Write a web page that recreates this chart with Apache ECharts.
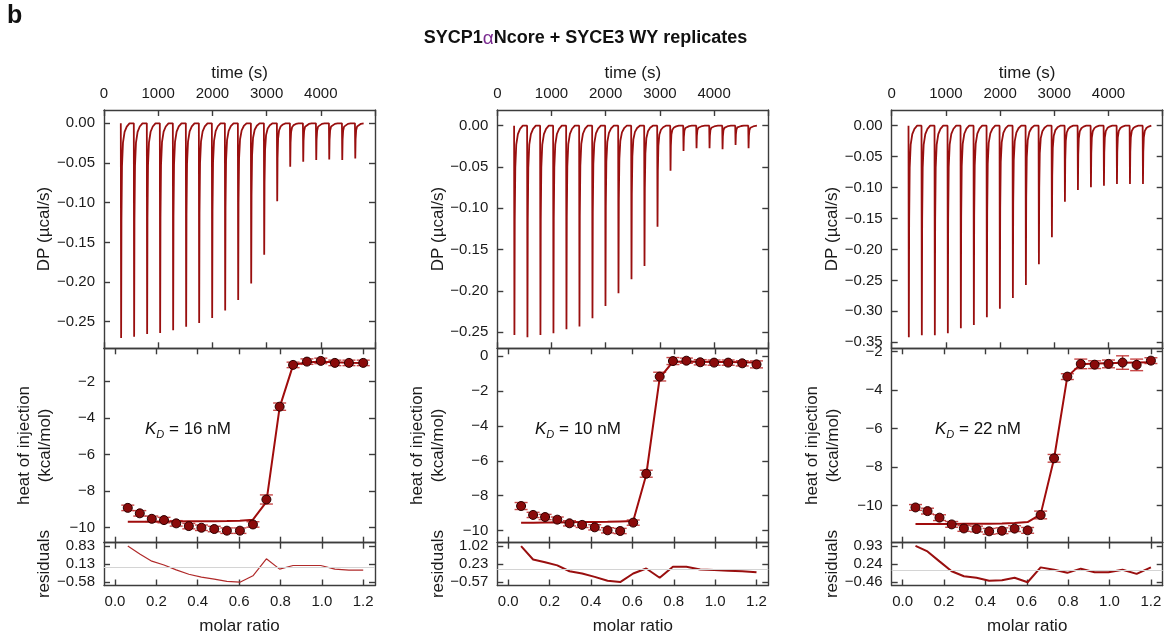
<!DOCTYPE html>
<html><head><meta charset="utf-8">
<script src="https://cdn.jsdelivr.net/npm/echarts@6/dist/echarts.min.js"></script>
<style>html,body{margin:0;padding:0;background:#fff}#c{width:1171px;height:641px}</style>
</head><body><div id="c"></div>
<script>
// ---------------- data ----------------
const injTimes = [310,550,790,1030,1270,1510,1750,1990,2230,2470,2710,2950,3190,3430,3670,3910,4150,4390,4630];
// shape of one injection peak (time offset in s, fraction of peak depth)
const peakOffsets   = [0, 6, 12, 22, 40, 70, 110, 160];
const peakFractions = [0, 1, 0.45, 0.2, 0.09, 0.04, 0.015, 0];

const dpPeaks1 = [-0.2705,-0.2688,-0.2654,-0.2642,-0.2608,-0.2562,-0.2515,-0.2452,-0.2359,-0.2225,-0.2018,-0.1656,-0.0982,-0.0548,-0.0485,-0.0463,-0.0455,-0.0463,-0.0442];
const dpPeaks2 = [-0.2532,-0.2560,-0.2532,-0.2512,-0.2464,-0.2431,-0.2331,-0.2181,-0.2028,-0.1859,-0.1698,-0.1222,-0.0544,-0.0306,-0.0274,-0.0274,-0.0286,-0.0234,-0.0274];
const dpPeaks3 = [-0.3420,-0.3387,-0.3387,-0.3355,-0.3274,-0.3220,-0.3096,-0.2956,-0.2784,-0.2574,-0.2240,-0.1804,-0.1228,-0.1039,-0.0996,-0.0969,-0.0942,-0.0942,-0.0942];

const molarRatio = [0.062,0.120,0.178,0.237,0.296,0.357,0.418,0.480,0.541,0.604,0.667,0.732,0.796,0.861,0.928,0.995,1.063,1.131,1.200];

const heat1 = [-8.93,-9.23,-9.53,-9.60,-9.78,-9.93,-10.02,-10.09,-10.18,-10.18,-9.84,-8.47,-3.38,-1.09,-0.91,-0.87,-0.98,-0.98,-0.98];
const fit1  = [-9.69,-9.69,-9.69,-9.68,-9.68,-9.67,-9.67,-9.66,-9.65,-9.63,-9.58,-8.60,-3.42,-1.10,-0.94,-0.92,-0.95,-0.97,-0.98];
const err1  = [0.15,0.15,0.15,0.15,0.15,0.15,0.15,0.15,0.15,0.15,0.15,0.25,0.2,0.15,0.15,0.15,0.15,0.15,0.15];
const resid1 = [0.83,0.52,0.24,0.09,-0.10,-0.27,-0.38,-0.46,-0.55,-0.58,-0.33,0.33,-0.07,0.07,0.07,0.07,-0.07,-0.11,-0.11];

const heat2 = [-8.59,-9.10,-9.22,-9.37,-9.58,-9.67,-9.81,-9.98,-10.02,-9.54,-6.74,-1.18,-0.29,-0.27,-0.36,-0.38,-0.38,-0.42,-0.48];
const fit2  = [-9.55,-9.55,-9.54,-9.53,-9.52,-9.51,-9.50,-9.49,-9.47,-9.45,-6.80,-1.25,-0.33,-0.32,-0.33,-0.34,-0.35,-0.36,-0.37];
const err2  = [0.2,0.15,0.15,0.15,0.15,0.15,0.15,0.15,0.15,0.15,0.2,0.25,0.2,0.15,0.15,0.15,0.15,0.15,0.2];
const resid2 = [1.02,0.43,0.31,0.17,-0.09,-0.19,-0.34,-0.51,-0.57,-0.19,0.03,-0.38,0.11,0.11,-0.01,-0.04,-0.07,-0.09,-0.14];

const heat3 = [-10.09,-10.28,-10.62,-10.97,-11.18,-11.21,-11.33,-11.30,-11.19,-11.28,-10.48,-7.54,-3.30,-2.64,-2.68,-2.64,-2.57,-2.69,-2.47];
const fit3  = [-10.95,-10.95,-10.95,-10.95,-10.94,-10.94,-10.93,-10.92,-10.90,-10.85,-10.45,-7.55,-3.30,-2.66,-2.62,-2.60,-2.58,-2.57,-2.56];
const err3  = [0.15,0.15,0.15,0.15,0.15,0.15,0.15,0.15,0.15,0.15,0.2,0.2,0.15,0.25,0.2,0.2,0.35,0.3,0.15];
const resid3 = [0.93,0.72,0.34,-0.04,-0.23,-0.29,-0.40,-0.38,-0.29,-0.46,0.11,0.02,-0.10,0.06,-0.08,-0.08,0.02,-0.14,0.11];

const kdValues = ['16', '10', '22'];

// tick labels
const timeTicks  = [0,1000,2000,3000,4000];
const timeTickMarks = [0,1000,2000,3000,4000,5000];
const molarTicks = [0,0.2,0.4,0.6,0.8,1.0,1.2];
const dpTicks1 = [0,-0.05,-0.10,-0.15,-0.20,-0.25];
const dpTicks2 = [0,-0.05,-0.10,-0.15,-0.20,-0.25];
const dpTicks3 = [0,-0.05,-0.10,-0.15,-0.20,-0.25,-0.30,-0.35];
const heatTicks1 = [-2,-4,-6,-8,-10];
const heatTicks2 = [0,-2,-4,-6,-8,-10];
const heatTicks3 = [-2,-4,-6,-8,-10];
const residTicks1 = [-0.58,0.13,0.83];
const residTicks2 = [-0.57,0.23,1.02];
const residTicks3 = [-0.46,0.24,0.93];

// ---------------- layout / style ----------------
const FONT = 'Liberation Sans, Arial, sans-serif';
const AX = '#3c3c3c';
const RED = '#990f0f';
const W = 271;
const layout = {
  lefts: [104, 497.3, 891.7],
  thermo: {top: 110, height: 238.3},
  iso: {top: 348.3, height: 194.4},
  resid: {top: 542.7, height: 42.8}
};
const panels = [
  {dp: dpPeaks1, dpRange: [-0.2835, 0.0168], dpTicks: dpTicks1, heat: heat1, fit: fit1, err: err1,
   heatRange: [-10.84, -0.18], heatTicks: heatTicks1, resid: resid1, residRange: [-0.708, 0.958], residTicks: residTicks1,
   residStyle: {color: '#b02a2a', width: 1.2}, kdX: 145},
  {dp: dpPeaks2, dpRange: [-0.2694, 0.019], dpTicks: dpTicks2, heat: heat2, fit: fit2, err: err2,
   heatRange: [-10.69, 0.44], heatTicks: heatTicks2, resid: resid2, residRange: [-0.72, 1.17], residTicks: residTicks2,
   residStyle: {color: RED, width: 2}, kdX: 535},
  {dp: dpPeaks3, dpRange: [-0.3597, 0.0253], dpTicks: dpTicks3, heat: heat3, fit: fit3, err: err3,
   heatRange: [-11.92, -1.83], heatTicks: heatTicks3, resid: resid3, residRange: [-0.585, 1.055], residTicks: residTicks3,
   residStyle: {color: RED, width: 2}, kdX: 935}
];

const minus = s => String(s).replace('-', '\u2212');
const fmt = {
  time: v => String(v),
  molar: v => v.toFixed(1),
  dp: v => minus(Math.abs(v) < 1e-9 ? '0.00' : v.toFixed(2)),
  heat: v => minus(v),
  resid: v => minus(v.toFixed(2))
};

const option = {
  animation: false,
  backgroundColor: '#fff',
  textStyle: {fontFamily: FONT},
  title: {
    left: 'center', top: 24,
    text: '{b|SYCP1}{a|\u03b1}{b|Ncore + SYCE3 WY replicates}',
    textStyle: {rich: {
      b: {fontFamily: FONT, fontWeight: 'bold', fontSize: 18, color: '#111'},
      a: {fontFamily: FONT, fontWeight: 'normal', fontSize: 19, color: '#7a2a90'}
    }}
  },
  grid: [], xAxis: [], yAxis: [], series: [], graphic: []
};

function makeAxis(gridIndex, position, range, tickVals, labelVals, formatter, extra) {
  const ax = {
    type: 'value', gridIndex, position, min: range[0], max: range[1],
    axisLine: {show: true, onZero: false, lineStyle: {color: AX, width: 1.4}},
    axisTick: {show: true, inside: true, length: 6, customValues: tickVals, lineStyle: {color: AX, width: 1.4}},
    splitLine: {show: false},
    axisLabel: labelVals ? {show: true, customValues: labelVals, formatter, fontSize: 15, color: '#1a1a1a', fontFamily: FONT, margin: 9}
                         : {show: false}
  };
  return Object.assign(ax, extra || {});
}
function nameStyle(extra) {
  return Object.assign({fontSize: 17, color: '#1a1a1a', fontFamily: FONT}, extra || {});
}

const timeRange = [0, 5000];
const molarRange = [-0.053, 1.257];

panels.forEach((p, k) => {
  const left = layout.lefts[k];
  const gT = option.grid.length;
  option.grid.push({left, top: layout.thermo.top, width: W, height: layout.thermo.height});
  option.grid.push({left, top: layout.iso.top, width: W, height: layout.iso.height});
  option.grid.push({left, top: layout.resid.top, width: W, height: layout.resid.height});
  const gI = gT + 1, gR = gT + 2;

  // x axes
  const xTime = option.xAxis.length;
  option.xAxis.push(makeAxis(gT, 'top', timeRange, timeTickMarks, timeTicks, fmt.time,
    {name: 'time (s)', nameLocation: 'middle', nameGap: 28.5, nameTextStyle: nameStyle()}));
  option.xAxis.push(makeAxis(gT, 'bottom', timeRange, timeTickMarks, null));
  option.xAxis.push(makeAxis(gI, 'top', molarRange, molarTicks, null));
  const xIso = option.xAxis.length;
  option.xAxis.push(makeAxis(gI, 'bottom', molarRange, molarTicks, null));
  option.xAxis.push(makeAxis(gR, 'top', molarRange, molarTicks, null));
  const xRes = option.xAxis.length;
  option.xAxis.push(makeAxis(gR, 'bottom', molarRange, molarTicks, molarTicks, fmt.molar,
    {name: 'molar ratio', nameLocation: 'middle', nameGap: 32, nameTextStyle: nameStyle()}));

  // y axes
  const yDp = option.yAxis.length;
  option.yAxis.push(makeAxis(gT, 'left', p.dpRange, p.dpTicks, p.dpTicks, fmt.dp,
    {name: 'DP (\u00b5cal/s)', nameLocation: 'middle', nameRotate: 90, nameGap: 46, nameTextStyle: nameStyle()}));
  option.yAxis.push(makeAxis(gT, 'right', p.dpRange, p.dpTicks, null));
  const yHeat = option.yAxis.length;
  option.yAxis.push(makeAxis(gI, 'left', p.heatRange, p.heatTicks, p.heatTicks, fmt.heat,
    {name: 'heat of injection\n(kcal/mol)', nameLocation: 'middle', nameRotate: 90, nameGap: 48, nameTextStyle: nameStyle({lineHeight: 21})}));
  option.yAxis.push(makeAxis(gI, 'right', p.heatRange, p.heatTicks, null));
  const yRes = option.yAxis.length;
  option.yAxis.push(makeAxis(gR, 'left', p.residRange, p.residTicks, p.residTicks, fmt.resid,
    {name: 'residuals', nameLocation: 'middle', nameRotate: 90, nameGap: 48, nameTextStyle: nameStyle()}));
  option.yAxis.push(makeAxis(gR, 'right', p.residRange, p.residTicks, null));

  // thermogram trace
  const trace = [];
  injTimes.forEach((t, i) => {
    peakOffsets.forEach((o, j) => trace.push([t + o, p.dp[i] * peakFractions[j]]));
  });
  option.series.push({
    type: 'line', xAxisIndex: xTime, yAxisIndex: yDp, data: trace, showSymbol: false,
    lineStyle: {color: RED, width: 1.8}, clip: true, silent: true
  });

  // error bars
  option.series.push({
    type: 'custom', xAxisIndex: xIso, yAxisIndex: yHeat, silent: true, z: 2,
    data: molarRatio.map((x, i) => [x, p.heat[i], p.err[i]]),
    renderItem: (params, api) => {
      const x = api.value(0), y = api.value(1), e = api.value(2);
      const a = api.coord([x, y + e]), b = api.coord([x, y - e]);
      const hw = 6.5;
      const st = {stroke: 'rgba(190,40,40,0.85)', lineWidth: 1.4};
      return {type: 'group', children: [
        {type: 'line', shape: {x1: a[0], y1: a[1], x2: b[0], y2: b[1]}, style: st},
        {type: 'line', shape: {x1: a[0] - hw, y1: a[1], x2: a[0] + hw, y2: a[1]}, style: st},
        {type: 'line', shape: {x1: b[0] - hw, y1: b[1], x2: b[0] + hw, y2: b[1]}, style: st}
      ]};
    }
  });
  // fit line
  option.series.push({
    type: 'line', xAxisIndex: xIso, yAxisIndex: yHeat, z: 3, silent: true, showSymbol: false,
    data: molarRatio.map((x, i) => [x, p.fit[i]]),
    lineStyle: {color: '#a00c0c', width: 2}
  });
  // data points
  option.series.push({
    type: 'scatter', xAxisIndex: xIso, yAxisIndex: yHeat, z: 4, silent: true,
    data: molarRatio.map((x, i) => [x, p.heat[i]]),
    symbolSize: 9,
    itemStyle: {color: '#8a0a0a', borderColor: '#2b0000', borderWidth: 1, opacity: 1}
  });
  // residuals
  option.series.push({
    type: 'line', xAxisIndex: xRes, yAxisIndex: yRes, silent: true, showSymbol: false,
    data: molarRatio.map((x, i) => [x, p.resid[i]]),
    lineStyle: p.residStyle,
    markLine: {silent: true, symbol: 'none', label: {show: false},
      lineStyle: {color: '#d4d4d4', width: 1, type: 'solid'}, data: [{yAxis: 0}]}
  });

  // K_D annotation
  option.graphic.push({
    type: 'text', x: p.kdX, y: 429, silent: true,
    style: {
      text: '{k|K}{d|D}{t| = ' + kdValues[k] + ' nM}',
      verticalAlign: 'middle',
      rich: {
        k: {fontFamily: FONT, fontStyle: 'italic', fontSize: 17, lineHeight: 22, fill: '#111', verticalAlign: 'middle'},
        d: {fontFamily: FONT, fontStyle: 'italic', fontSize: 11, lineHeight: 12, fill: '#111', verticalAlign: 'bottom'},
        t: {fontFamily: FONT, fontSize: 17, lineHeight: 22, fill: '#111', verticalAlign: 'middle'}
      }
    }
  });
});

option.graphic.push({
  type: 'text', x: 7, y: 4, silent: true,
  style: {text: 'b', fontFamily: FONT, fontWeight: 'bold', fontSize: 25, fill: '#111'}
});

const chart = echarts.init(document.getElementById('c'), null, {renderer: 'canvas'});
chart.setOption(option);
</script>
</body></html>
